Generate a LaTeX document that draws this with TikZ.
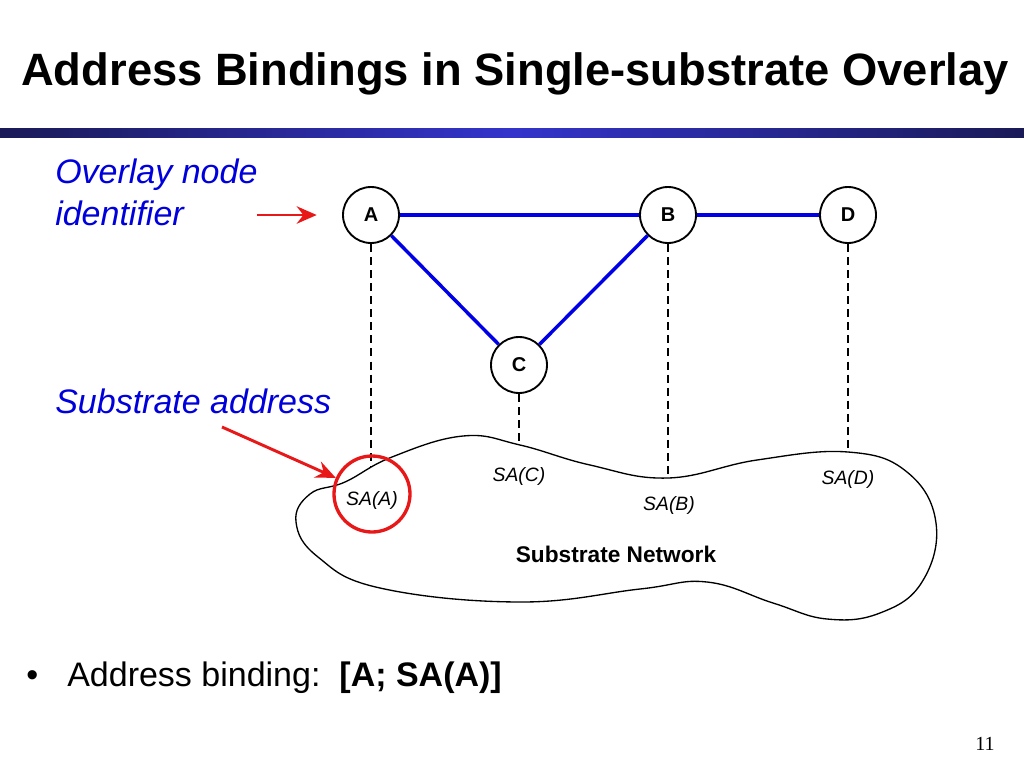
\documentclass[tikz,border=0pt]{standalone}
\usepackage{fontspec}
\setmainfont{Liberation Sans}
\newfontfamily\timesfont{Liberation Serif}
\usetikzlibrary{arrows.meta}
\definecolor{textblue}{RGB}{0,0,220}
\definecolor{linkblue}{RGB}{0,0,230}
\definecolor{markred}{RGB}{232,24,24}
\definecolor{barnavy}{RGB}{26,26,88}
\definecolor{barblue}{RGB}{52,52,204}
\tikzset{
  >={Stealth[length=15pt,width=13pt,inset=5pt]},
}
\tikzstyle{peer}=[circle,draw,line width=1.4pt,minimum size=42pt,inner sep=0pt,font=\fontsize{15}{18}\selectfont\bfseries]
\tikzstyle{link}=[line width=2.6pt,linkblue]
\tikzstyle{drop}=[line width=1.1pt,dash pattern=on 6pt off 3.8pt]
\tikzstyle{pointer}=[->,line width=2.2pt,markred]
\tikzstyle{addr}=[font=\fontsize{14.5}{17}\selectfont\itshape]
\tikzstyle{note}=[textblue,font=\fontsize{25.5}{31}\selectfont\itshape,inner sep=0pt,align=left]

\begin{document}
\begin{tikzpicture}[x=0.75pt,y=-0.75pt]
    \useasboundingbox (0,0) rectangle (1024,768);
    % header
    \node[anchor=base west,inner sep=0pt,font=\fontsize{34}{40}\selectfont\bfseries] (title) at (21,85) {Address Bindings in Single-substrate Overlay};
    \shade[left color=barnavy,right color=barnavy,middle color=barblue] (0,128) rectangle (1024,137);
    % substrate network
    \draw[line width=1pt] plot[smooth cycle,tension=0.7] coordinates {
      (296,522) (310,494) (345,482) (392,457) (463,436) (520,445)
      (590,465) (668,478) (757,460) (848,452) (907,472) (936,523) (922,582)
      (880,613) (827,619) (773,603) (707,582) (640,589) (520,602) (380,588) (318,557)};
    \node[font=\fontsize{17}{20}\selectfont\bfseries] (net) at (616,554) {Substrate Network};
    \node[addr] (saA) at (372,500) {SA(A)};
    \node[addr] (saC) at (519,476) {SA(C)};
    \node[addr] (saB) at (669,505) {SA(B)};
    \node[addr] (saD) at (848,479) {SA(D)};
    % overlay
    \node[peer] (A) at (371,215) {A};
    \node[peer] (B) at (668,215) {B};
    \node[peer] (D) at (848,215) {D};
    \node[peer] (C) at (519,365) {C};
    \draw[link] (A)--(B);
    \draw[link] (B)--(D);
    \draw[link] (A)--(C);
    \draw[link] (C)--(B);
    \coordinate (dA) at (371,467);
    \coordinate (dC) at (519,445);
    \coordinate (dB) at (668,478);
    \coordinate (dD) at (848,452);
    \draw[drop] (A)--(dA);
    \draw[drop] (C)--(dC);
    \draw[drop] (B)--(dB);
    \draw[drop] (D)--(dD);
    \node[circle,draw=markred,line width=2.5pt,minimum size=57pt,inner sep=0pt] (ring) at (372,494) {};
    % notes
    \node[note,anchor=base west] (overlay) at (55,225) {Overlay node\\identifier};
    \node[note,anchor=base west] (subaddr) at (55,413) {Substrate address};
    \coordinate (t1) at (257,215);
    \coordinate (t2) at (222,427);
    \draw[pointer,shorten >=19pt] (t1)--(A);
    \draw[pointer] (t2)--(ring);
    % bullet
    \node[anchor=base west,inner sep=0pt,font=\fontsize{25.5}{31}\selectfont] (bullet) at (26,686) {•};
    \node[anchor=base west,inner sep=0pt,font=\fontsize{25.5}{31}\selectfont] (binding) at (67,686) {Address binding:\ \ \textbf{[A; SA(A)]}};
    \node[anchor=base east,inner sep=0pt,font=\timesfont\fontsize{15}{18}\selectfont] (pagenum) at (995,750) {11};
  \end{tikzpicture}
\end{document}
